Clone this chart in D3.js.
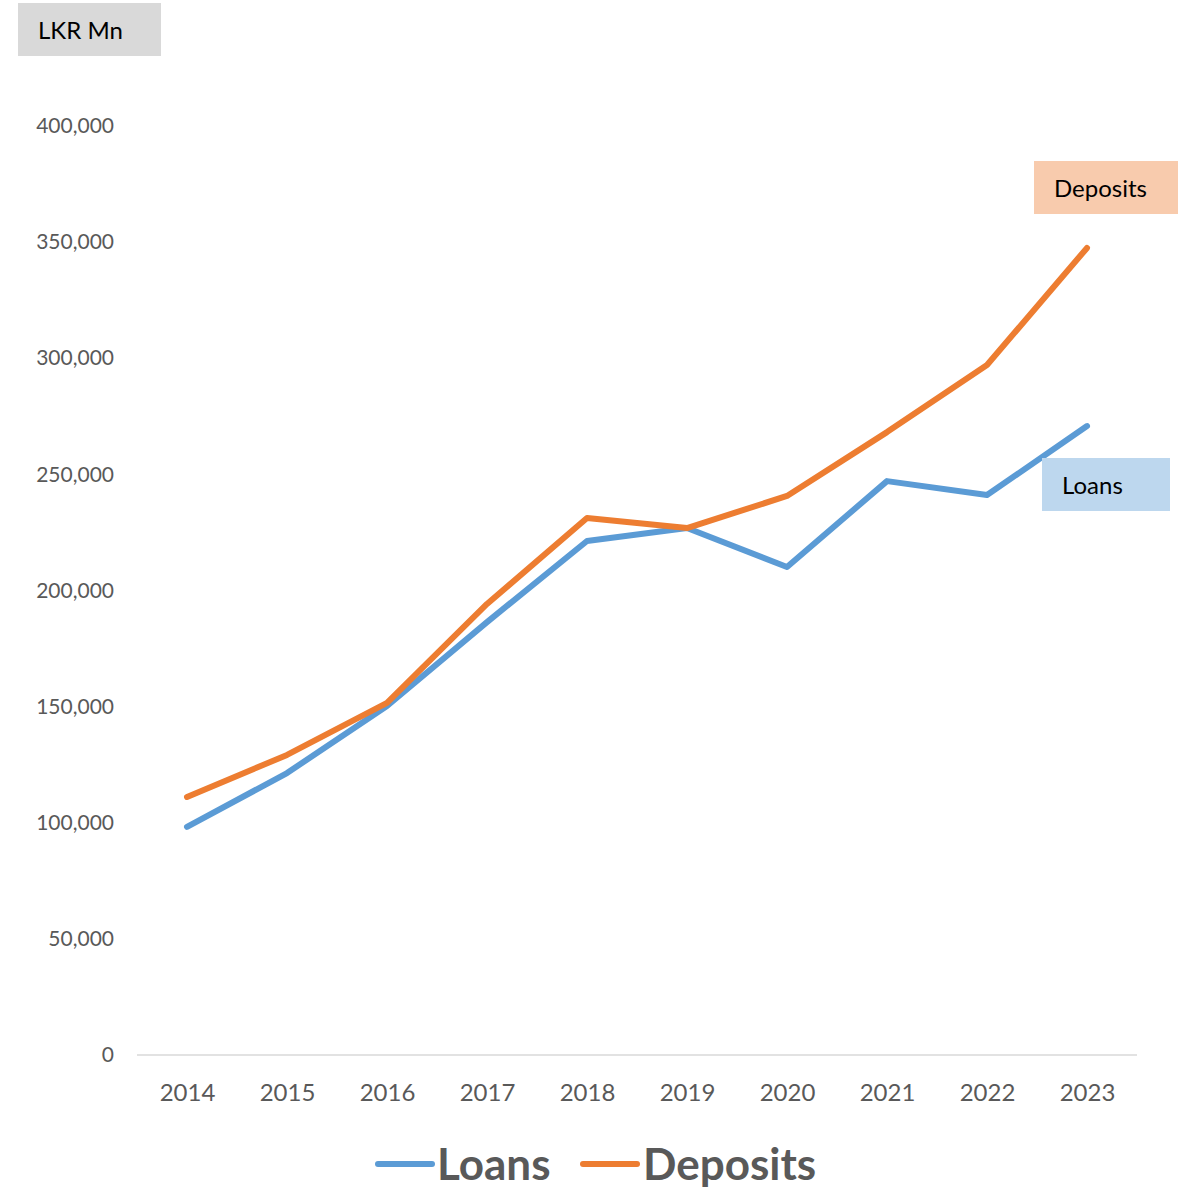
<!DOCTYPE html>
<html><head><meta charset="utf-8">
<script src="https://cdn.jsdelivr.net/npm/d3@7"></script>
<style>body{margin:0;background:#fff}svg{display:block}text{font-family:Lato,"Open Sans",sans-serif}</style>
</head><body>
<script>
const years = [2014,2015,2016,2017,2018,2019,2020,2021,2022,2023];
const loans = [98200,121400,150300,186400,221300,226900,210100,247100,241100,270800];
const deposits = [111100,129200,151600,194200,231200,226900,240700,268200,297100,347500];
const yTicks = [0,50000,100000,150000,200000,250000,300000,350000,400000];
const seriesNames = ["Loans","Deposits"];
const colors = ["#5b9bd5","#ed7d31"];

const W=1178,H=1189;
const svg=d3.select("body").append("svg").attr("width",W).attr("height",H);
const x=d3.scalePoint().domain(years).range([187,1087]);
const y=d3.scaleLinear().domain([0,400000]).range([1055,126]);

// y axis labels
const ya=svg.append("g").attr("transform","translate(114,0)")
  .call(d3.axisLeft(y).tickValues(yTicks).tickSize(0).tickPadding(0).tickFormat(d3.format(",")));
ya.select(".domain").remove();
ya.selectAll("text").attr("fill","#595959").style("font-size","21px").style("font-family","Lato,'Open Sans',sans-serif");

// baseline
svg.append("line").attr("x1",137).attr("x2",1137).attr("y1",y(0)).attr("y2",y(0)).attr("stroke","#d9d9d9").attr("stroke-width",1.5);

// x axis labels
const xa=svg.append("g").attr("transform",`translate(0,${y(0)})`)
  .call(d3.axisBottom(x).tickSize(0).tickPadding(29).tickFormat(d=>String(d)));
xa.select(".domain").remove();
xa.selectAll("text").attr("fill","#595959").style("font-size","24px").style("font-family","Lato,'Open Sans',sans-serif");

const line=d3.line().x((d,i)=>x(years[i])).y(d=>y(d));
[loans,deposits].forEach((s,k)=>{
  svg.append("path").attr("d",line(s)).attr("fill","none").attr("stroke",colors[k])
    .attr("stroke-width",6).attr("stroke-linecap","round").attr("stroke-linejoin","round");
});

// label boxes
function box(x0,y0,w,h,fill,txt,size,pad){
  svg.append("rect").attr("x",x0).attr("y",y0).attr("width",w).attr("height",h).attr("fill",fill);
  svg.append("text").attr("x",x0+pad).attr("y",y0+h/2).attr("text-anchor","start").attr("dominant-baseline","central")
    .attr("fill","#000").style("font-size",size+"px").text(txt);
}
box(18,3,143,53,"#d9d9d9","LKR Mn",24,20);
box(1034,161,144,53,"#f8cbad","Deposits",24,20);
box(1042,458,128,53,"#bdd7ee","Loans",24,20);

// legend
const leg=[[378,437],[583,643]];
seriesNames.forEach((n,k)=>{
  svg.append("line").attr("x1",leg[k][0]).attr("x2",leg[k][0]+54).attr("y1",1164).attr("y2",1164)
    .attr("stroke",colors[k]).attr("stroke-width",6).attr("stroke-linecap","round");
  svg.append("text").attr("x",leg[k][1]).attr("y",1180).attr("fill","#595959")
    .style("font-size","44px").style("font-weight","bold").text(n);
});
</script>
</body></html>
